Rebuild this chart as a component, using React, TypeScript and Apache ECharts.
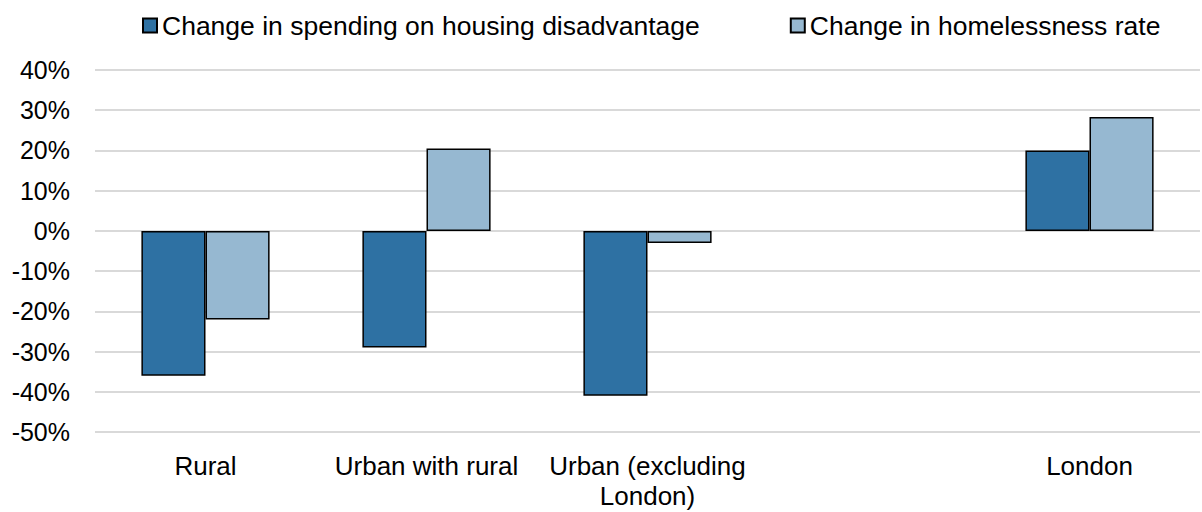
import React, { useEffect, useRef } from "react";
import * as echarts from "echarts";

const categories = ["Rural", "Urban with rural", "Urban (excluding\nLondon)", "", "London"];
const spendingChange = [-36, -29, -41, null, 20];
const homelessnessChange = [-22, 20.5, -3, null, 28.3];
const seriesNames = ["Change in spending on housing disadvantage", "Change in homelessness rate"];
const yTicks = { min: -50, max: 40, interval: 10 };

export default function App() {
  const ref = useRef<HTMLDivElement>(null);
  useEffect(() => {
    document.body.style.margin = "0";
    const chart = echarts.init(ref.current!, null, { renderer: "svg" });
    const font = "'Liberation Sans', Arial, sans-serif";
    chart.setOption({
      animation: false,
      textStyle: { fontFamily: font },
      legend: {
        left: 137,
        top: 7,
        itemWidth: 14,
        itemHeight: 14,
        itemGap: 90,
        icon: "rect",
        textStyle: { fontSize: 26.5, color: "#000", fontFamily: font },
        data: seriesNames,
      },
      grid: { left: 95, right: 2, top: 70, bottom: 80, containLabel: false },
      xAxis: {
        type: "category",
        data: categories,
        axisLine: { show: false },
        axisTick: { show: false },
        axisLabel: { fontSize: 26, color: "#000", margin: 19, lineHeight: 30, fontFamily: font, interval: 0 },
      },
      yAxis: {
        type: "value",
        min: yTicks.min,
        max: yTicks.max,
        interval: yTicks.interval,
        axisLabel: { fontSize: 25, color: "#000", margin: 25, formatter: "{value}%", fontFamily: font },
        axisLine: { show: false },
        axisTick: { show: false },
        splitLine: { lineStyle: { color: "#d9d9d9", width: 2 } },
      },
      series: [
        {
          name: seriesNames[0],
          type: "bar",
          data: spendingChange,
          barGap: "0%",
          barCategoryGap: "42%",
          itemStyle: { color: "#2E71A3", borderColor: "#000", borderWidth: 1.5 },
        },
        {
          name: seriesNames[1],
          type: "bar",
          data: homelessnessChange,
          itemStyle: { color: "#96B8D1", borderColor: "#000", borderWidth: 1.5 },
        },
      ],
    });
    return () => chart.dispose();
  }, []);
  return <div ref={ref} style={{ width: 1202, height: 512 }} />;
}
